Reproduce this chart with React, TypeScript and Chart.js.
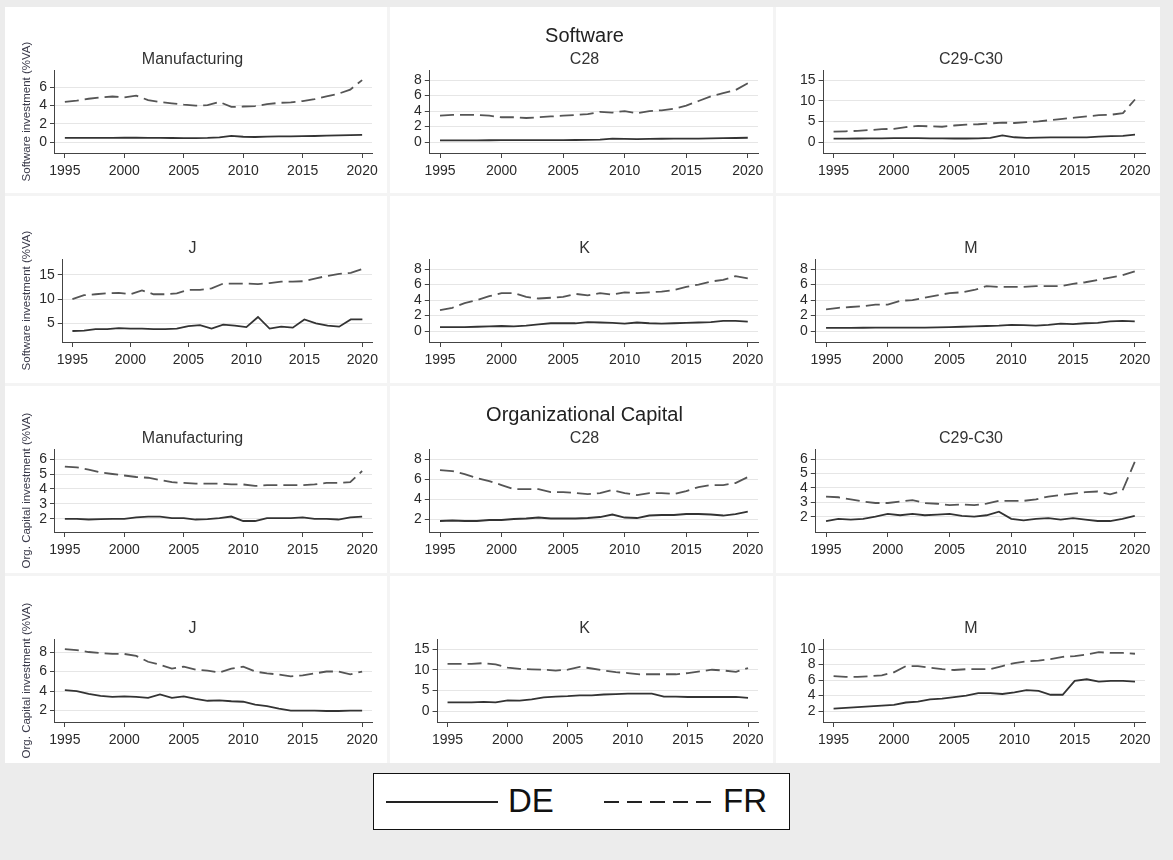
import React, { useEffect, useRef } from 'react';
import { Chart, registerables } from 'chart.js';

Chart.register(...registerables);

const FONT = '"Liberation Sans", Arial, Helvetica, sans-serif';
Chart.defaults.font.family = FONT;

// ---------- data ----------
const years = [1995, 1996, 1997, 1998, 1999, 2000, 2001, 2002, 2003, 2004, 2005, 2006, 2007, 2008, 2009, 2010, 2011, 2012, 2013, 2014, 2015, 2016, 2017, 2018, 2019, 2020];
const xTicks = [1995, 2000, 2005, 2010, 2015, 2020];

// Software investment (%VA)
const swManufDE = [0.45, 0.45, 0.45, 0.46, 0.46, 0.47, 0.47, 0.46, 0.45, 0.44, 0.43, 0.43, 0.45, 0.5, 0.68, 0.58, 0.55, 0.6, 0.62, 0.63, 0.64, 0.66, 0.7, 0.73, 0.75, 0.78];
const swManufFR = [4.4, 4.55, 4.75, 4.9, 5.0, 4.9, 5.1, 4.6, 4.4, 4.25, 4.1, 4.0, 4.05, 4.4, 3.85, 3.9, 3.95, 4.15, 4.3, 4.35, 4.5, 4.7, 5.0, 5.3, 5.75, 6.8];
const swManufTicks = [0, 2, 4, 6];

const swC28DE = [0.22, 0.22, 0.22, 0.22, 0.23, 0.24, 0.24, 0.24, 0.24, 0.24, 0.25, 0.26, 0.28, 0.32, 0.45, 0.4, 0.38, 0.4, 0.42, 0.43, 0.43, 0.45, 0.48, 0.5, 0.52, 0.55];
const swC28FR = [3.4, 3.5, 3.5, 3.5, 3.4, 3.2, 3.2, 3.1, 3.2, 3.3, 3.4, 3.5, 3.6, 3.9, 3.8, 4.0, 3.7, 4.0, 4.1, 4.3, 4.7, 5.3, 5.9, 6.3, 6.7, 7.6];
const swC28Ticks = [0, 2, 4, 6, 8];

const swC29DE = [0.8, 0.82, 0.85, 0.88, 0.9, 0.95, 0.95, 0.92, 0.9, 0.88, 0.85, 0.85, 0.87, 1.0, 1.6, 1.15, 1.0, 1.05, 1.1, 1.1, 1.1, 1.12, 1.3, 1.45, 1.5, 1.8];
const swC29FR = [2.5, 2.6, 2.7, 2.9, 3.1, 3.2, 3.6, 3.9, 3.8, 3.7, 4.0, 4.2, 4.3, 4.5, 4.7, 4.6, 4.8, 5.0, 5.3, 5.6, 5.9, 6.2, 6.5, 6.6, 7.0, 10.3];
const swC29Ticks = [0, 5, 10, 15];

const swJDE = [3.4, 3.5, 3.8, 3.8, 4.0, 3.9, 3.9, 3.8, 3.8, 3.9, 4.4, 4.6, 3.9, 4.7, 4.5, 4.2, 6.3, 3.9, 4.3, 4.1, 5.8, 5.0, 4.5, 4.3, 5.8, 5.8];
const swJFR = [10.0, 10.8, 11.0, 11.2, 11.3, 11.0, 11.8, 11.0, 11.0, 11.2, 11.9, 11.9, 12.2, 13.2, 13.2, 13.2, 13.1, 13.3, 13.6, 13.6, 13.7, 14.3, 14.8, 15.2, 15.4, 16.2];
const swJTicks = [5, 10, 15];

const swKDE = [0.5, 0.5, 0.5, 0.55, 0.6, 0.65, 0.6, 0.7, 0.85, 1.0, 1.0, 1.0, 1.15, 1.1, 1.05, 0.95, 1.1, 1.0, 0.95, 1.0, 1.05, 1.1, 1.15, 1.3, 1.3, 1.2];
const swKFR = [2.7, 3.0, 3.6, 4.0, 4.5, 4.9, 4.9, 4.4, 4.2, 4.3, 4.4, 4.8, 4.6, 4.9, 4.7, 5.0, 4.9, 5.0, 5.1, 5.3, 5.7, 6.0, 6.4, 6.6, 7.1, 6.8];
const swKTicks = [0, 2, 4, 6, 8];

const swMDE = [0.4, 0.4, 0.4, 0.42, 0.45, 0.45, 0.45, 0.45, 0.45, 0.47, 0.5, 0.55, 0.6, 0.65, 0.7, 0.8, 0.75, 0.7, 0.8, 0.95, 0.9, 1.0, 1.05, 1.25, 1.3, 1.25];
const swMFR = [2.8, 3.0, 3.1, 3.2, 3.4, 3.4, 3.9, 4.0, 4.3, 4.6, 4.9, 5.0, 5.3, 5.8, 5.7, 5.7, 5.7, 5.8, 5.8, 5.8, 6.1, 6.3, 6.6, 6.9, 7.2, 7.7];
const swMTicks = [0, 2, 4, 6, 8];

// Organizational capital investment (%VA)
const ocManufDE = [2.0, 2.0, 1.95, 1.98, 2.0, 2.0, 2.1, 2.15, 2.15, 2.05, 2.05, 1.95, 1.98, 2.05, 2.15, 1.85, 1.85, 2.05, 2.05, 2.05, 2.1, 2.0, 2.0, 1.95, 2.1, 2.15];
const ocManufFR = [5.5, 5.45, 5.3, 5.1, 5.0, 4.9, 4.8, 4.75, 4.6, 4.45, 4.4, 4.35, 4.35, 4.35, 4.3, 4.3, 4.2, 4.25, 4.25, 4.25, 4.25, 4.3, 4.4, 4.4, 4.45, 5.2];
const ocManufTicks = [2, 3, 4, 5, 6];

const ocC28DE = [1.8, 1.85, 1.8, 1.8, 1.9, 1.9, 2.0, 2.05, 2.15, 2.05, 2.05, 2.05, 2.1, 2.2, 2.45, 2.15, 2.1, 2.35, 2.4, 2.4, 2.5, 2.5, 2.45, 2.35, 2.5, 2.75];
const ocC28FR = [6.9, 6.8, 6.5, 6.1, 5.8, 5.4, 5.0, 5.0, 5.0, 4.7, 4.7, 4.6, 4.5, 4.6, 4.9, 4.6, 4.4, 4.6, 4.6, 4.5, 4.8, 5.2, 5.4, 5.4, 5.6, 6.2];
const ocC28Ticks = [2, 4, 6, 8];

const ocC29DE = [1.7, 1.85, 1.8, 1.85, 2.0, 2.2, 2.1, 2.2, 2.1, 2.15, 2.2, 2.05, 2.0, 2.1, 2.35, 1.85, 1.75, 1.85, 1.9, 1.8, 1.9, 1.8, 1.7, 1.7, 1.85, 2.05];
const ocC29FR = [3.4, 3.35, 3.2, 3.05, 2.95, 2.95, 3.05, 3.15, 2.95, 2.9, 2.8, 2.85, 2.8, 2.9, 3.1, 3.1, 3.1, 3.2, 3.4, 3.5, 3.6, 3.7, 3.75, 3.55, 3.8, 5.8];
const ocC29Ticks = [2, 3, 4, 5, 6];

const ocJDE = [4.1, 4.0, 3.7, 3.5, 3.4, 3.45, 3.4, 3.3, 3.65, 3.3, 3.45, 3.2, 3.0, 3.05, 2.95, 2.9, 2.6, 2.45, 2.2, 2.0, 2.0, 2.0, 1.95, 1.95, 2.0, 2.0];
const ocJFR = [8.3, 8.2, 8.0, 7.9, 7.8, 7.8, 7.6, 7.0, 6.7, 6.3, 6.5, 6.2, 6.1, 5.9, 6.3, 6.5, 6.0, 5.8, 5.7, 5.5, 5.6, 5.8, 6.0, 6.0, 5.7, 6.0];
const ocJTicks = [2, 4, 6, 8];

const ocKDE = [2.1, 2.1, 2.1, 2.2, 2.1, 2.6, 2.5, 2.8, 3.3, 3.5, 3.6, 3.8, 3.8, 4.0, 4.1, 4.2, 4.2, 4.2, 3.5, 3.5, 3.4, 3.4, 3.4, 3.4, 3.4, 3.2];
const ocKFR = [11.4, 11.4, 11.4, 11.6, 11.3, 10.5, 10.2, 10.1, 10.0, 9.8, 10.0, 10.7, 10.3, 9.8, 9.4, 9.2, 8.9, 8.9, 8.9, 8.9, 9.2, 9.6, 10.0, 9.8, 9.5, 10.4];
const ocKTicks = [0, 5, 10, 15];

const ocMDE = [2.3, 2.4, 2.5, 2.6, 2.7, 2.8, 3.1, 3.2, 3.5, 3.6, 3.8, 4.0, 4.3, 4.3, 4.2, 4.4, 4.7, 4.6, 4.1, 4.1, 5.9, 6.1, 5.8, 5.9, 5.9, 5.8];
const ocMFR = [6.5, 6.4, 6.4, 6.5, 6.6, 7.0, 7.8, 7.8, 7.6, 7.4, 7.3, 7.4, 7.4, 7.4, 7.8, 8.2, 8.4, 8.5, 8.7, 9.0, 9.1, 9.3, 9.6, 9.5, 9.5, 9.4];
const ocMTicks = [2, 4, 6, 8, 10];

const groupTitles = ['Software', 'Organizational Capital'];
const sectorNames = ['Manufacturing', 'C28', 'C29-C30', 'J', 'K', 'M'];
const yAxisTitles = ['Software investment (%VA)', 'Org. Capital investment (%VA)'];
const seriesNames = ['DE', 'FR'];

// ---------- layout ----------
const COL_LEFT = [5, 390, 776];
const COL_W = [382, 383, 384];
const ROW_TOP = [7, 196, 386, 576];
const ROW_H = [186, 187, 187, 187];
const AREA_BOTTOM = 146;
const X_AXIS_H = 28;

type PanelSpec = {
  row: number; col: number; title: string; sub: string; yTitle: string;
  de: number[]; fr: number[]; ticks: number[];
};

const panels: PanelSpec[] = [
  { row: 0, col: 0, title: '', sub: sectorNames[0], yTitle: yAxisTitles[0], de: swManufDE, fr: swManufFR, ticks: swManufTicks },
  { row: 0, col: 1, title: groupTitles[0], sub: sectorNames[1], yTitle: '', de: swC28DE, fr: swC28FR, ticks: swC28Ticks },
  { row: 0, col: 2, title: '', sub: sectorNames[2], yTitle: '', de: swC29DE, fr: swC29FR, ticks: swC29Ticks },
  { row: 1, col: 0, title: '', sub: sectorNames[3], yTitle: yAxisTitles[0], de: swJDE, fr: swJFR, ticks: swJTicks },
  { row: 1, col: 1, title: '', sub: sectorNames[4], yTitle: '', de: swKDE, fr: swKFR, ticks: swKTicks },
  { row: 1, col: 2, title: '', sub: sectorNames[5], yTitle: '', de: swMDE, fr: swMFR, ticks: swMTicks },
  { row: 2, col: 0, title: '', sub: sectorNames[0], yTitle: yAxisTitles[1], de: ocManufDE, fr: ocManufFR, ticks: ocManufTicks },
  { row: 2, col: 1, title: groupTitles[1], sub: sectorNames[1], yTitle: '', de: ocC28DE, fr: ocC28FR, ticks: ocC28Ticks },
  { row: 2, col: 2, title: '', sub: sectorNames[2], yTitle: '', de: ocC29DE, fr: ocC29FR, ticks: ocC29Ticks },
  { row: 3, col: 0, title: '', sub: sectorNames[3], yTitle: yAxisTitles[1], de: ocJDE, fr: ocJFR, ticks: ocJTicks },
  { row: 3, col: 1, title: '', sub: sectorNames[4], yTitle: '', de: ocKDE, fr: ocKFR, ticks: ocKTicks },
  { row: 3, col: 2, title: '', sub: sectorNames[5], yTitle: '', de: ocMDE, fr: ocMFR, ticks: ocMTicks },
];

function yRange(ticks: number[], de: number[], fr: number[]) {
  const all = [...ticks, ...de, ...fr];
  const lo = Math.min(...all);
  const hi = Math.max(...all);
  const u = (hi - lo) / 62;
  return { min: lo - 11 * u, max: hi + 10 * u };
}

const AXIS_COLOR = '#444';
const TEXT_COLOR = '#2a2a2a';

function Panel({ p }: { p: PanelSpec }) {
  const ref = useRef<HTMLCanvasElement | null>(null);
  const w = COL_W[p.col];
  const h = ROW_H[p.row];

  useEffect(() => {
    if (!ref.current) return;
    const { min, max } = yRange(p.ticks, p.de, p.fr);
    const chart = new Chart(ref.current, {
      type: 'line',
      data: {
        datasets: [
          {
            label: seriesNames[0],
            data: years.map((y, i) => ({ x: y, y: p.de[i] })),
            borderColor: '#333333',
            borderWidth: 1.8,
            pointRadius: 0,
            tension: 0,
            fill: false,
          },
          {
            label: seriesNames[1],
            data: years.map((y, i) => ({ x: y, y: p.fr[i] })),
            borderColor: '#555555',
            borderWidth: 1.8,
            borderDash: [14, 6],
            pointRadius: 0,
            tension: 0,
            fill: false,
          },
        ],
      },
      options: {
        animation: false,
        responsive: false,
        devicePixelRatio: 1,
        events: [],
        layout: {
          padding: {
            left: p.col === 0 ? 8 : 21,
            right: 15,
            top: 0,
            bottom: h - AREA_BOTTOM - X_AXIS_H,
          },
        },
        plugins: {
          legend: { display: false },
          tooltip: { enabled: false },
          title: {
            display: !!p.title,
            text: p.title,
            color: '#222',
            font: { family: FONT, size: 20, weight: 'normal' },
            padding: { top: 17, bottom: 0 },
          },
          subtitle: {
            display: true,
            text: p.sub,
            color: '#333',
            font: { family: FONT, size: 16, weight: 'normal' },
            padding: p.title ? { top: 2.4, bottom: 0.5 } : { top: 43.4, bottom: 0.5 },
          },
        },
        scales: {
          x: {
            type: 'linear',
            min: 1995 - 0.83,
            max: 2020 + 0.83,
            afterBuildTicks: (s: any) => {
              s.ticks = xTicks.map((v) => ({ value: v }));
            },
            afterFit: (s: any) => {
              s.height = X_AXIS_H;
            },
            ticks: {
              callback: (v: any) => String(v),
              color: TEXT_COLOR,
              font: { family: FONT, size: 14 },
              padding: 5,
              autoSkip: false,
              maxRotation: 0,
            },
            grid: {
              drawOnChartArea: false,
              drawTicks: true,
              tickLength: 5,
              tickColor: AXIS_COLOR,
            },
            border: { display: true, color: AXIS_COLOR, width: 1 },
          },
          y: {
            type: 'linear',
            min,
            max,
            afterBuildTicks: (s: any) => {
              s.ticks = p.ticks.map((v) => ({ value: v }));
            },
            ticks: {
              callback: (v: any) => String(v),
              color: TEXT_COLOR,
              font: { family: FONT, size: 14 },
              padding: 3,
              autoSkip: false,
            },
            grid: {
              color: '#e6e6e6',
              lineWidth: 1,
              drawTicks: true,
              tickLength: 5,
              tickColor: AXIS_COLOR,
            },
            border: { display: true, color: AXIS_COLOR, width: 1 },
            title: {
              display: !!p.yTitle,
              text: p.yTitle,
              color: '#3a3a4a',
              font: { family: FONT, size: 11.5 },
              padding: { top: 7, bottom: 2.4 },
            },
          },
        },
      },
    } as any);
    return () => chart.destroy();
  }, [p, w, h]);

  return (
    <div
      style={{
        position: 'absolute',
        left: COL_LEFT[p.col],
        top: ROW_TOP[p.row],
        width: w,
        height: h,
        background: '#ffffff',
      }}
    >
      <canvas ref={ref} width={w} height={h} style={{ display: 'block', width: w, height: h }} />
    </div>
  );
}

function Legend() {
  return (
    <div
      style={{
        position: 'absolute',
        left: 373,
        top: 773,
        width: 415,
        height: 55,
        background: '#ffffff',
        border: '1.5px solid #111',
        fontFamily: FONT,
      }}
    >
      <svg width={415} height={55} style={{ position: 'absolute', left: 0, top: 0 }}>
        <line x1={12} y1={28} x2={124} y2={28} stroke="#222" strokeWidth={2} />
        <line x1={230} y1={28} x2={342} y2={28} stroke="#222" strokeWidth={2} strokeDasharray="15 8" />
      </svg>
      <span style={{ position: 'absolute', left: 134, top: 6, fontSize: 33, lineHeight: '42px', color: '#111' }}>
        {seriesNames[0]}
      </span>
      <span style={{ position: 'absolute', left: 349, top: 6, fontSize: 33, lineHeight: '42px', color: '#111' }}>
        {seriesNames[1]}
      </span>
    </div>
  );
}

export default function App() {
  return (
    <div
      style={{
        position: 'absolute',
        left: 0,
        top: 0,
        width: 1173,
        height: 860,
        background: '#ececec',
        overflow: 'hidden',
      }}
    >
      <div style={{ position: 'absolute', left: 5, top: 7, width: 1155, height: 756, background: '#f4f4f4' }} />
      {panels.map((p, i) => (
        <Panel key={i} p={p} />
      ))}
      <Legend />
    </div>
  );
}
